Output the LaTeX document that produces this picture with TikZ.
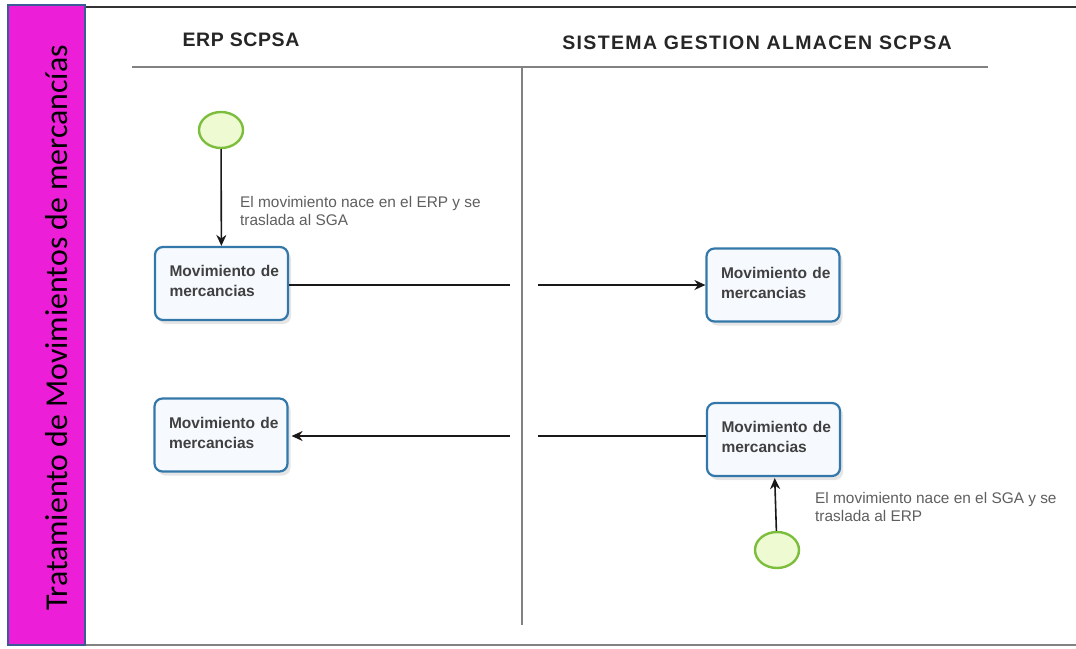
\documentclass[tikz,border=0pt]{standalone}
\usepackage{fontspec}
\setmainfont{Liberation Sans}
\newfontfamily\calibrifont{Carlito}
\usepackage{tikz}
\usetikzlibrary{arrows.meta,shapes.geometric,shadows}

\definecolor{banda}{RGB}{236,30,216}
\definecolor{bordebanda}{RGB}{60,90,150}
\definecolor{bordetarea}{RGB}{52,120,170}
\definecolor{fondotarea}{RGB}{246,250,254}
\definecolor{textotarea}{RGB}{64,64,64}
\definecolor{bordeinicio}{RGB}{124,190,60}
\definecolor{fondoinicio}{RGB}{238,250,210}
\definecolor{nota}{RGB}{95,95,95}
\definecolor{linea}{RGB}{130,130,130}

\tikzstyle{tarea} = [draw=bordetarea, line width=2.2pt, rectangle, rounded corners=8pt, fill=fondotarea, minimum width=133pt, minimum height=73pt, text width=120pt, align=left, inner sep=0pt, text=textotarea, font=\fontsize{15.5}{20}\selectfont\bfseries, execute at begin node={\leftskip=8pt}, drop shadow={shadow xshift=3pt, shadow yshift=-4pt, opacity=.2}]
\tikzstyle{inicio} = [draw=bordeinicio, line width=2.4pt, ellipse, minimum width=44pt, minimum height=36pt, inner sep=0pt, fill=fondoinicio]
\tikzstyle{nota} = [anchor=north west, align=left, inner sep=0pt, text=nota, font=\fontsize{15.4}{18.5}\selectfont]
\tikzstyle{cabecera} = [font=\fontsize{19.5}{22}\selectfont\bfseries, text=black!85]
\tikzstyle{flujo} = [line width=1.6pt, black!90]

\begin{document}
\begin{tikzpicture}[x=1pt, y=-1pt]
\useasboundingbox (0,0) rectangle (1076,648);

% marco y banda lateral
\fill[white] (0,0) rectangle (1076,648);
\draw[line width=2.5pt, black!80] (85,7) -- (1076,7);
\draw[line width=2pt, linea] (85,645) -- (1076,645);
\draw[draw=bordebanda, line width=1.2pt, fill=banda] (8,5) rectangle (85,645);
\node[rotate=90, font=\calibrifont\fontsize{31.8}{35}\selectfont] (titulo) at (57,328) {Tratamiento de Movimientos de mercancías};

% carriles
\node[cabecera] (erp) at (241,40) {\addfontfeature{LetterSpace=3}ERP SCPSA};
\node[cabecera] (sga) at (757,43) {\addfontfeature{LetterSpace=7}SISTEMA GESTION ALMACEN SCPSA};
\draw[line width=2pt, linea] (132,67) -- (988,67);
\draw[line width=1.5pt, linea] (522,67) -- (522,625);

% tareas
\node[tarea] (mov1) at (221.5,283.5) {Movimiento de\\mercancias\vspace{5pt}};
\node[tarea] (mov2) at (773,285) {Movimiento de\\mercancias\vspace{5pt}};
\node[tarea] (mov3) at (221,435) {Movimiento de\\mercancias\vspace{5pt}};
\node[tarea] (mov4) at (773.5,439.5) {Movimiento de\\mercancias\vspace{5pt}};

% eventos de inicio
\node[inicio] (ini1) at (221,130) {};
\node[inicio] (ini2) at (777,550) {};

% notas
\node[nota] (nota1) at (240,196) {El movimiento nace en el ERP y se\\traslada al SGA};
\node[nota] (nota2) at (815,492) {El movimiento nace en el SGA y se\\traslada al ERP};

% conectores
\coordinate (c1) at (510,285);
\coordinate (c2) at (538,285);
\coordinate (c3) at (510,436);
\coordinate (c4) at (538,436);

\draw[flujo, -{Stealth[length=11pt, width=10pt]}] (ini1) -- (mov1);
\draw[flujo] (mov1.east |- c1) -- (c1);
\draw[flujo, -{Stealth[length=11pt, width=10pt]}] (c2) -- (mov2.west |- c2);
\draw[flujo] (mov4.west |- c4) -- (c4);
\draw[flujo, -{Stealth[length=11pt, width=10pt]}, shorten >=3pt] (c3) -- (mov3.east |- c3);
\draw[flujo, -{Stealth[length=11pt, width=10pt]}, shorten >=1pt] (ini2) -- (mov4);
\end{tikzpicture}
\end{document}
